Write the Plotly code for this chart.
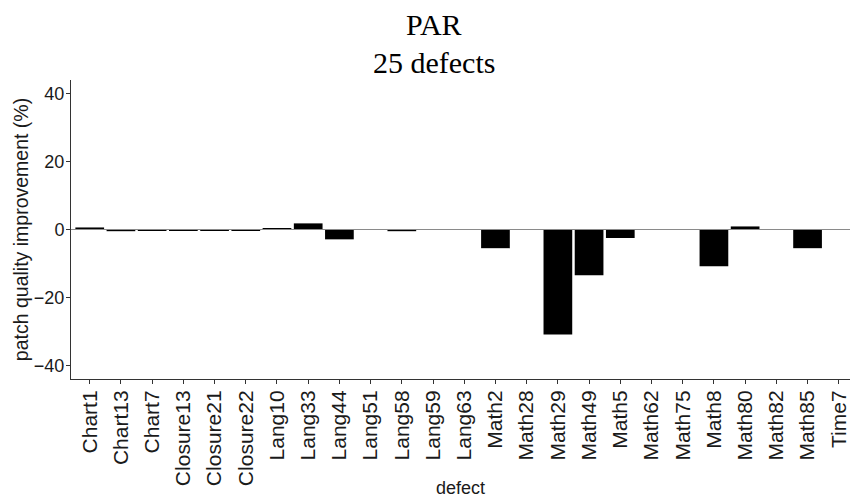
import plotly.graph_objects as go

# Patch quality improvement per defect for the PAR tool
defects = [
    "Chart1", "Chart13", "Chart7", "Closure13", "Closure21", "Closure22",
    "Lang10", "Lang33", "Lang44", "Lang51", "Lang58", "Lang59", "Lang63",
    "Math2", "Math28", "Math29", "Math49", "Math5", "Math62", "Math75",
    "Math8", "Math80", "Math82", "Math85", "Time7",
]
improvement = [
    0.6, -0.5, -0.2, -0.2, -0.2, -0.2,
    0.3, 1.8, -2.9, 0.0, -0.5, 0.1, 0.0,
    -5.5, 0.0, -30.9, -13.5, -2.5, 0.0, 0.0,
    -10.8, 0.9, 0.0, -5.5, 0.0,
]
y_ticks = [-40, -20, 0, 20, 40]
title_lines = ["PAR", "25 defects"]

W, H = 850, 498
L, R, T, B = 71, 0, 80, 119

fig = go.Figure(
    go.Bar(
        x=defects,
        y=improvement,
        width=0.92,
        marker=dict(color="black", line=dict(width=0)),
    )
)

# grey reference line at zero, drawn over the bars
fig.add_shape(
    type="line", xref="paper", yref="y",
    x0=0, x1=1, y0=0, y1=0,
    line=dict(color="#8a8a8a", width=1),
    layer="above",
)

# two-line title in a serif face
title_x = (434 - L) / (W - L - R)
for txt, yc in zip(title_lines, [24, 62]):
    fig.add_annotation(
        text=txt, xref="paper", yref="paper",
        x=title_x, y=1 + (T - yc) / (H - T - B),
        xanchor="center", yanchor="middle", showarrow=False,
        font=dict(family="Liberation Serif, Times New Roman, serif",
                  size=30, color="black"),
    )

axis_font = dict(family="Liberation Sans, Arial, sans-serif", size=18, color="#1a1a1a")

fig.update_layout(
    width=W, height=H,
    margin=dict(l=L, r=R, t=T, b=B, pad=0, autoexpand=False),
    paper_bgcolor="white", plot_bgcolor="white",
    showlegend=False,
    font=axis_font,
)

fig.update_xaxes(
    type="category",
    range=[-0.6, 24.36],
    tickangle=-90,
    ticks="outside", ticklen=4, tickwidth=1, tickcolor="#333333",
    showline=True, linecolor="#333333", linewidth=1,
    showgrid=False, zeroline=False,
    tickfont=dict(size=21),
    ticklabelstandoff=-2,
    automargin=False,
    title=dict(text="defect", font=dict(size=18), standoff=2),
)
fig.update_yaxes(
    range=[-44, 44],
    tickvals=y_ticks,
    ticks="outside", ticklen=4, tickwidth=1, tickcolor="#333333",
    showline=True, linecolor="#333333", linewidth=1,
    showgrid=False, zeroline=False,
    tickfont=dict(size=18),
    ticklabelstandoff=-2,
    automargin=False,
    title=dict(text="patch quality improvement (%)", font=dict(size=19.5), standoff=0),
)

fig.write_html("out.html")
